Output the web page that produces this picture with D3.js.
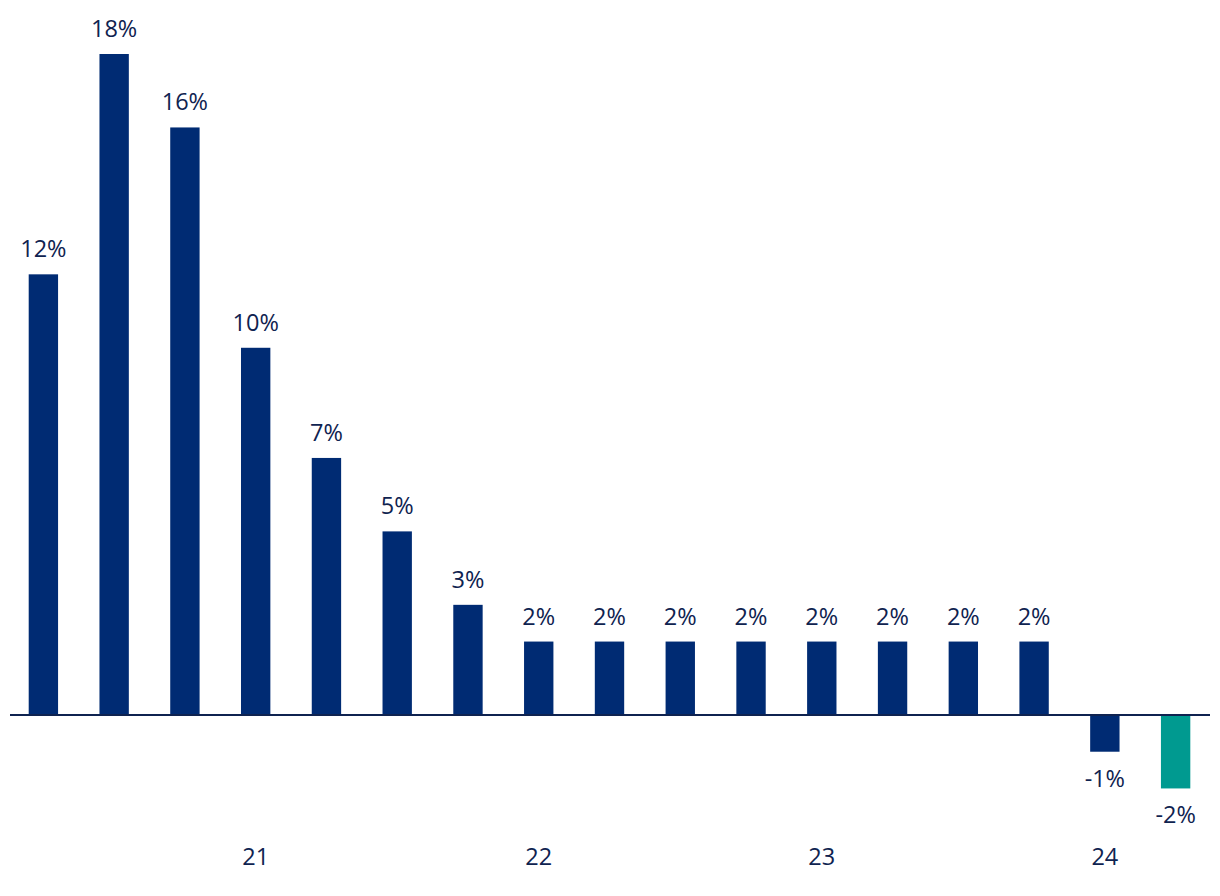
<!DOCTYPE html>
<html><head><meta charset="utf-8">
<script src="https://cdn.jsdelivr.net/npm/d3@7"></script>
<style>body{margin:0;background:#fff}svg{display:block}text{font-family:"Open Sans",sans-serif}</style>
</head><body><svg id="c" width="1220" height="896"></svg>
<script>
const categories = ["Q1 20","Q2 20","Q3 20","Q4 20","Q1 21","Q2 21","Q3 21","Q4 21","Q1 22","Q2 22","Q3 22","Q4 22","Q1 23","Q2 23","Q3 23","Q4 23","Q1 24"];
const values = [12,18,16,10,7,5,3,2,2,2,2,2,2,2,2,-1,-2];
const tickCategories = ["Q4 20","Q4 21","Q4 22","Q4 23"];
const tickLabels = ["21","22","23","24"];
const highlight = ["Q1 24"];

const svg = d3.select("#c");
const navy = "#002B73", teal = "#009A90", textCol = "#0F2350";
const x = d3.scaleBand().domain(categories).range([8, 1211]).paddingInner(0.585).paddingOuter(0.2925);
const y = d3.scaleLinear().domain([0, 18]).range([715, 54]);

svg.selectAll("rect.bar").data(values).join("rect")
  .attr("class","bar")
  .attr("x",(d,i)=>x(categories[i]))
  .attr("width",x.bandwidth())
  .attr("y",d=>y(Math.max(0,d)))
  .attr("height",d=>Math.abs(y(d)-y(0)))
  .attr("fill",(d,i)=>highlight.includes(categories[i])?teal:navy);

svg.selectAll("text.val").data(values).join("text")
  .attr("class","val")
  .attr("x",(d,i)=>x(categories[i])+x.bandwidth()/2)
  .attr("y",d=>d>=0?y(d)-17:y(d)+35)
  .attr("text-anchor","middle")
  .attr("font-size",23.5)
  .attr("fill",textCol)
  .text(d=>d+"%");

svg.append("line").attr("x1",10).attr("x2",1210).attr("y1",y(0)).attr("y2",y(0))
  .attr("stroke",textCol).attr("stroke-width",2);

const xAxis = d3.axisBottom(x).tickValues(tickCategories).tickSize(0).tickPadding(0)
  .tickFormat(d=>tickLabels[tickCategories.indexOf(d)]);
const ax = svg.append("g").attr("transform","translate(0,865)").call(xAxis);
ax.select(".domain").remove();
ax.selectAll("text").attr("font-size",23.5).attr("fill",textCol).attr("font-family","Open Sans, sans-serif").attr("dy","0");
</script></body></html>
